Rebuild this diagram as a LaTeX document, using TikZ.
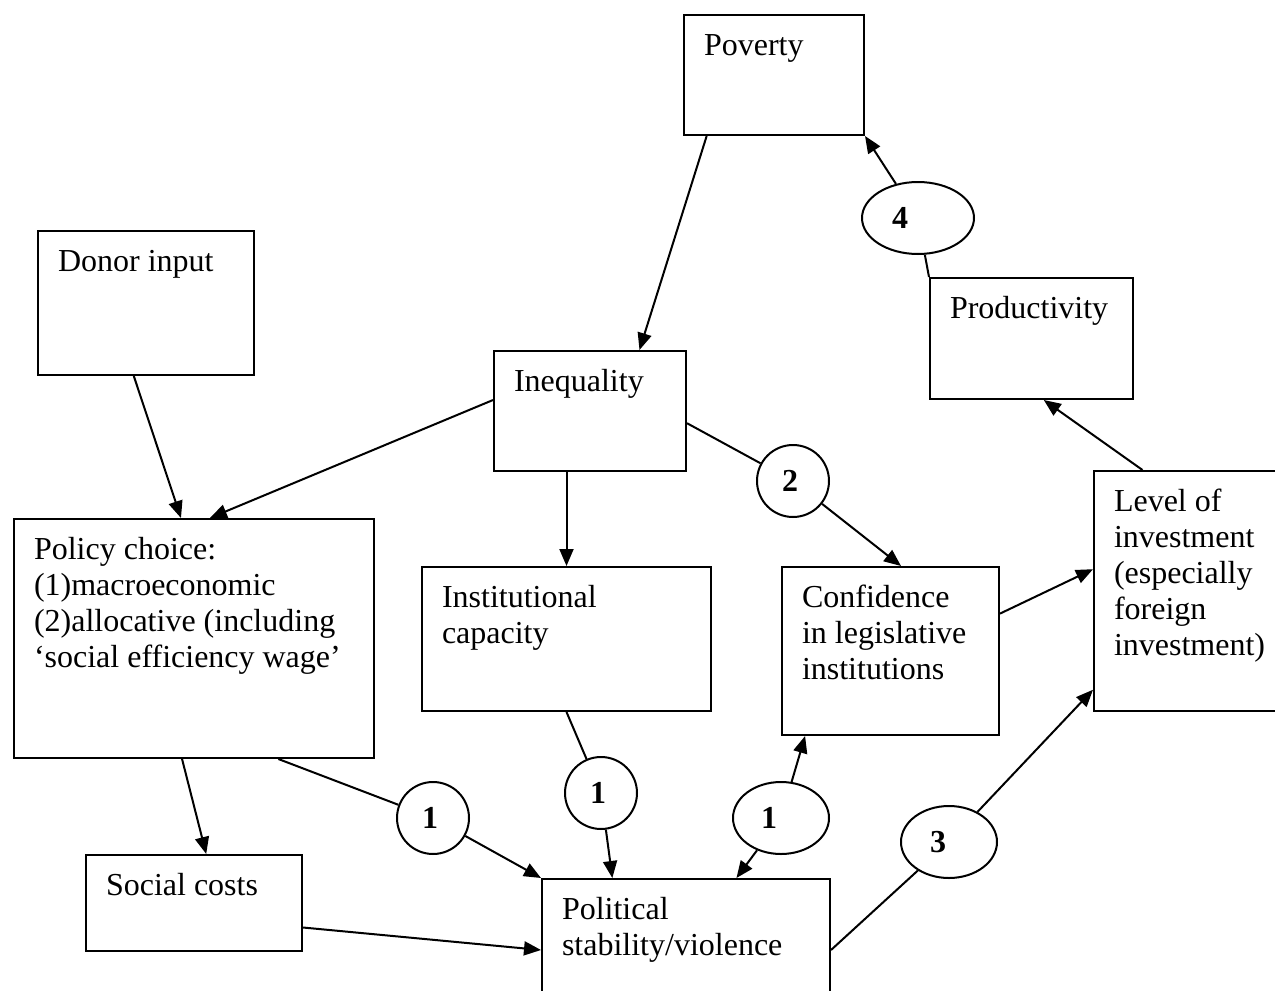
\documentclass[tikz,border=0pt]{standalone}
\usepackage{fontspec}
\setmainfont{Liberation Serif}
\usetikzlibrary{arrows.meta, shapes, calc}
\newcommand{\boxtxt}[3]{\parbox[t][#2][t]{#1}{\raggedright\rule{0pt}{20pt}#3}}

\begin{document}
\begin{tikzpicture}[>={Triangle[length=8.5pt, width=7pt]}, x=0.5pt, y=-0.5pt, line width=1pt,
  box/.style={draw, rectangle, anchor=north west, inner xsep=10pt, inner ysep=0pt, font=\fontsize{16}{18}\selectfont},
  num/.style={draw, ellipse, inner sep=0pt, minimum width=36pt, minimum height=36pt, font=\fontsize{16}{18}\selectfont\bfseries}]
  \useasboundingbox (0,0) rectangle (1275,991);

  \node[box] (pov) at (683,14) {\boxtxt{70pt}{60pt}{Poverty}};
  \node[box] (donor) at (37,230) {\boxtxt{88pt}{72pt}{Donor input}};
  \node[box] (prod) at (929,277) {\boxtxt{81.5pt}{60.5pt}{Productivity}};
  \node[box] (ineq) at (493,350) {\boxtxt{76pt}{60pt}{Inequality}};
  \node[box] (policy) at (13,518) {\boxtxt{160pt}{119.5pt}{Policy choice:\\(1)macroeconomic\\(2)allocative (including\\‘social efficiency wage’}};
  \node[box] (inst) at (421,566) {\boxtxt{124.5pt}{72pt}{Institutional\\capacity}};
  \node[box] (conf) at (781,566) {\boxtxt{88.5pt}{84pt}{Confidence\\in legislative\\institutions}};
  \node[box] (level) at (1093,470) {\boxtxt{80pt}{120pt}{Level of\\investment\\(especially\\foreign\\investment)}};
  \node[box] (social) at (85,854) {\boxtxt{88pt}{48pt}{Social costs}};
  \node[box] (pol) at (541,878) {\boxtxt{124pt}{70pt}{Political\\stability/violence}};

  \node[num, minimum width=56pt] (n4) at (918,218) {4\kern18pt};
  \node[num] (n2) at (793,481) {2\kern3pt};
  \node[num] (n1a) at (433,818) {1\kern3pt};
  \node[num] (n1b) at (601,793) {1\kern3pt};
  \node[num, minimum width=48pt] (n1c) at (781,818) {1\kern12pt};
  \node[num, minimum width=48pt] (n3) at (949,842) {3\kern11pt};

  \draw[->] ($(pov.south west)!0.13!(pov.south east)$) -- ($(ineq.north west)!0.755!(ineq.north east)$);
  \draw[->] ($(donor.south west)!0.444!(donor.south east)$) -- ($(policy.north west)!0.464!(policy.north east)$);
  \draw[->] ($(ineq.north west)!0.41!(ineq.south west)$) -- ($(policy.north west)!0.544!(policy.north east)$);
  \draw[->] (ineq.south -| inst.north) -- (inst.north);
  \draw ($(ineq.north east)!0.6!(ineq.south east)$) -- (n2);
  \draw[->] (n2) -- ($(conf.north west)!0.548!(conf.north east)$);
  \draw[->] ($(conf.north east)!0.28!(conf.south east)$) -- ($(level.north west)!0.41!(level.south west)$);
  \draw[->] ($(level.north west)!0.245!(level.north east)$) -- ($(prod.south west)!0.56!(prod.south east)$);
  \draw (prod.north west) -- (n4);
  \draw[->] (n4) -- (pov.south east);
  \draw[->] ($(policy.south west)!0.467!(policy.south east)$) -- ($(social.north west)!0.556!(social.north east)$);
  \draw ($(policy.south west)!0.733!(policy.south east)$) -- (n1a);
  \draw[->] (n1a) -- (pol.north west);
  \draw[->] ($(social.north east)!0.75!(social.south east)$) -- ($(pol.north west)+(0,72)$);
  \draw (inst.south) -- (n1b);
  \draw[->] (n1b) -- ($(pol.north west)!0.246!(pol.north east)$);
  \draw[->] (n1c) -- ($(pol.north west)!0.674!(pol.north east)$);
  \draw[->] (n1c) -- ($(conf.south west)!0.11!(conf.south east)$);
  \draw ($(pol.north east)+(0,72)$) -- (n3);
  \draw[->] (n3) -- ($(level.north west)!0.908!(level.south west)$);
\end{tikzpicture}
\end{document}
